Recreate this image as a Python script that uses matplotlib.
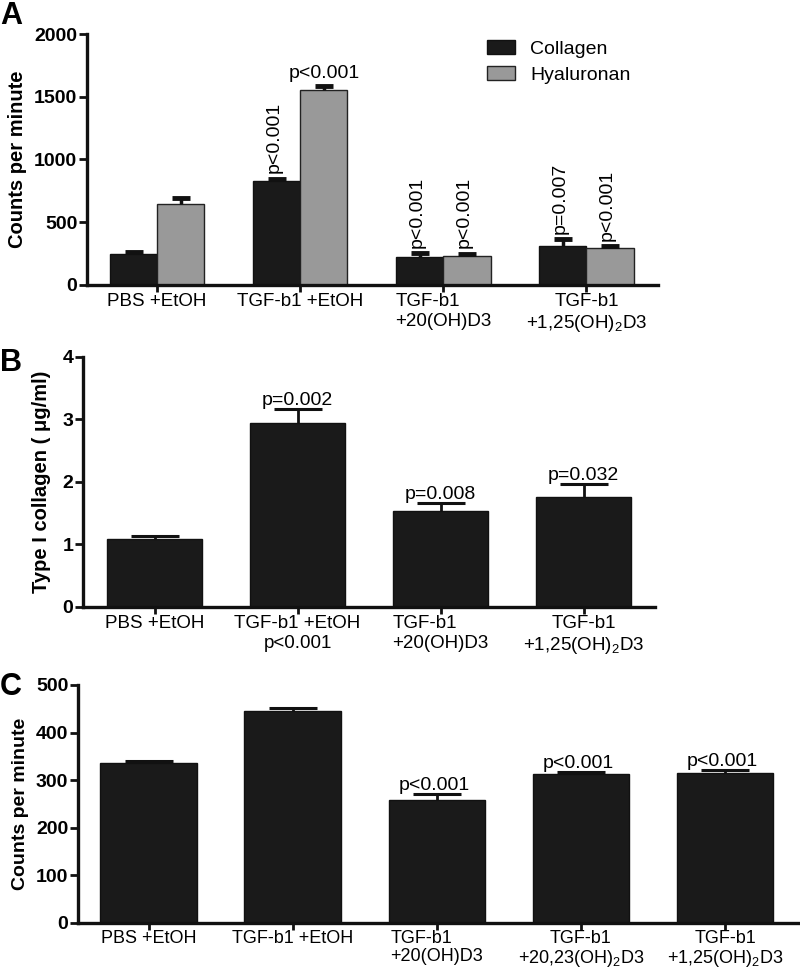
import matplotlib
matplotlib.use("Agg")
import matplotlib.pyplot as plt
import numpy as np

plt.rcParams['font.family'] = ['Liberation Sans', 'DejaVu Sans']
plt.rcParams['mathtext.fontset'] = 'custom'
plt.rcParams['mathtext.rm'] = 'Liberation Sans'
plt.rcParams['mathtext.it'] = 'Liberation Sans'

# ---------------- data ----------------
a_groups = ["PBS +EtOH", "TGF-b1 +EtOH", "TGF-b1\n+20(OH)D3", "TGF-b1\n+1,25(OH)$_2$D3"]
a_collagen = [245, 830, 222, 310]
a_collagen_err = [18, 15, 30, 55]
a_hyal = [645, 1555, 232, 295]
a_hyal_err = [45, 30, 15, 15]
a_collagen_p = ["", "p<0.001", "p<0.001", "p=0.007"]
a_hyal_p = ["", "p<0.001", "p<0.001", "p<0.001"]

b_groups = ["PBS +EtOH", "TGF-b1 +EtOH\np<0.001", "TGF-b1\n+20(OH)D3", "TGF-b1\n+1,25(OH)$_2$D3"]
b_values = [1.08, 2.94, 1.54, 1.76]
b_err = [0.05, 0.22, 0.12, 0.21]
b_p = ["", "p=0.002", "p=0.008", "p=0.032"]

c_groups = ["PBS +EtOH", "TGF-b1 +EtOH", "TGF-b1\n+20(OH)D3",
            "TGF-b1\n+20,23(OH)$_2$D3", "TGF-b1\n+1,25(OH)$_2$D3"]
c_values = [336, 446, 258, 313, 315]
c_err = [5, 5, 12, 5, 6]
c_p = ["", "", "p<0.001", "p<0.001", "p<0.001"]

DARK = "#1a1a1a"
GRAY = "#999999"
FS = 13.5

fig = plt.figure(figsize=(8.0, 9.69), dpi=100)

def style_axes(ax, xfs=FS, xpad=1):
    for s in ("top", "right"):
        ax.spines[s].set_visible(False)
    for s in ("left", "bottom"):
        ax.spines[s].set_linewidth(2.4)
        ax.spines[s].set_color("#111111")
    ax.tick_params(axis="y", length=6, width=2, labelsize=14, pad=1, color="#111111")
    ax.tick_params(axis="x", length=5, width=2, labelsize=xfs, pad=xpad, color="#111111")
    for lab in ax.get_yticklabels():
        lab.set_fontweight("bold")

def upper_err(ax, xs, vals, errs, capw, lw, capt):
    xs = np.asarray(xs, float)
    tops = np.asarray(vals, float) + np.asarray(errs, float)
    ax.vlines(xs, vals, tops, color="#111111", linewidth=lw, zorder=3)
    ax.plot(xs, tops, linestyle="none", marker="_", markersize=capw,
            markeredgewidth=capt, color="#111111", zorder=3)

# ---------------- Panel A ----------------
axA = fig.add_axes([0.10875, 0.7059, 0.71375, 0.259])
x = np.arange(len(a_groups))
w = 0.33
axA.bar(x - w / 2, a_collagen, w, color=DARK, edgecolor="#111111", linewidth=1, label="Collagen", zorder=2)
axA.bar(x + w / 2, a_hyal, w, color=GRAY, edgecolor="#222222", linewidth=1, label="Hyaluronan", zorder=2)
upper_err(axA, x - w / 2, a_collagen, a_collagen_err, 13, 2.5, 3.5)
upper_err(axA, x + w / 2, a_hyal, a_hyal_err, 13, 2.5, 3.5)
for i in range(len(x)):
    if a_collagen_p[i]:
        axA.annotate(a_collagen_p[i], (x[i] - w / 2, a_collagen[i] + a_collagen_err[i]),
                     xytext=(-2, 4), textcoords="offset points", rotation=90,
                     ha="center", va="bottom", fontsize=FS + 0.5)
    if a_hyal_p[i]:
        if i == 1:
            axA.annotate(a_hyal_p[i], (x[i] + w / 2, a_hyal[i] + a_hyal_err[i]),
                         xytext=(0, 3), textcoords="offset points",
                         ha="center", va="bottom", fontsize=FS + 0.5)
        else:
            axA.annotate(a_hyal_p[i], (x[i] + w / 2, a_hyal[i] + a_hyal_err[i]),
                         xytext=(-2, 4), textcoords="offset points", rotation=90,
                         ha="center", va="bottom", fontsize=FS + 0.5)
axA.set_xlim(-0.49, 3.5)
axA.set_ylim(0, 2000)
axA.set_yticks([0, 500, 1000, 1500, 2000])
axA.set_xticks(x)
axA.set_xticklabels(a_groups)
axA.set_ylabel("Counts per minute", fontsize=14.5, fontweight="bold", labelpad=5)
style_axes(axA)
axA.get_xticklabels()[2].set_multialignment("left")
axA.legend(loc="upper left", bbox_to_anchor=(0.70, 0.975), frameon=False, fontsize=14,
           handlelength=1.45, handleheight=0.72, handletextpad=0.8, labelspacing=0.42,
           borderpad=0, borderaxespad=0)

# ---------------- Panel B ----------------
axB = fig.add_axes([0.10375, 0.3736, 0.715, 0.258])
xb = np.arange(len(b_groups))
wb = 0.67
axB.bar(xb, b_values, wb, color=DARK, edgecolor="#111111", linewidth=1, zorder=2)
upper_err(axB, xb, b_values, b_err, 35, 2, 2.2)
for i in range(len(xb)):
    if b_p[i]:
        axB.annotate(b_p[i], (xb[i], b_values[i] + b_err[i]), xytext=(0, 0),
                     textcoords="offset points", ha="center", va="bottom", fontsize=FS + 0.5)
axB.set_xlim(-0.5, 3.5)
axB.set_ylim(0, 4)
axB.set_yticks([0, 1, 2, 3, 4])
axB.set_xticks(xb)
axB.set_xticklabels(b_groups)
axB.set_ylabel("Type I collagen ( \u03bcg/ml)", fontsize=14.5, fontweight="bold", labelpad=8)
style_axes(axB)
axB.get_xticklabels()[2].set_multialignment("left")

# ---------------- Panel C ----------------
axC = fig.add_axes([0.0975, 0.0475, 0.9025, 0.2456])
xc = np.arange(len(c_groups))
axC.bar(xc, c_values, 0.67, color=DARK, edgecolor="#111111", linewidth=1, zorder=2)
upper_err(axC, xc, c_values, c_err, 35, 2, 2.2)
for i in range(len(xc)):
    if c_p[i]:
        axC.annotate(c_p[i], (xc[i], c_values[i] + c_err[i]), xytext=(-2, 0),
                     textcoords="offset points", ha="center", va="bottom", fontsize=FS + 0.5)
axC.set_xlim(-0.49, 4.52)
axC.set_ylim(0, 500)
axC.set_yticks([0, 100, 200, 300, 400, 500])
axC.set_xticks(xc)
axC.set_xticklabels(c_groups, linespacing=1.05)
axC.set_ylabel("Counts per minute", fontsize=14, fontweight="bold", labelpad=5)
style_axes(axC, xfs=13, xpad=0)
axC.get_xticklabels()[2].set_multialignment("left")

# panel letters
fig.text(0.0, 0.999, "A", fontsize=22, fontweight="bold", va="top", ha="left")
fig.text(0.0, 0.641, "B", fontsize=22, fontweight="bold", va="top", ha="left")
fig.text(0.0, 0.307, "C", fontsize=22, fontweight="bold", va="top", ha="left")

fig.savefig("out.png", dpi=100)
